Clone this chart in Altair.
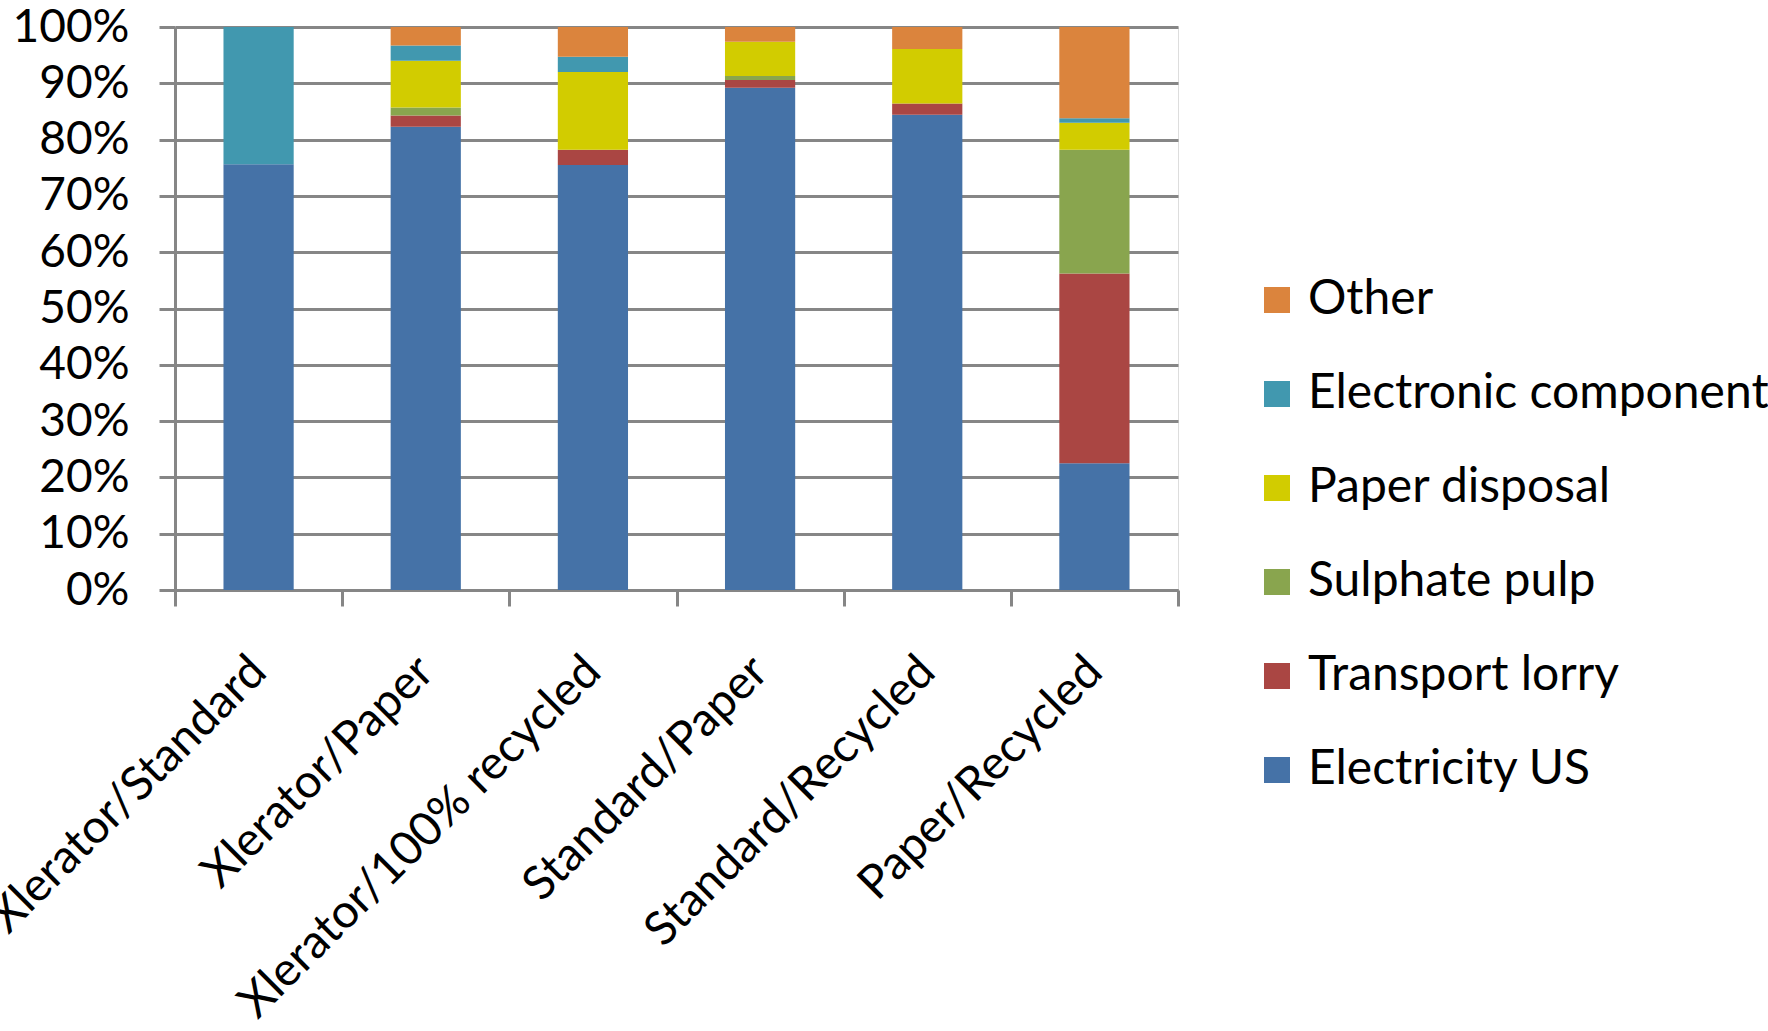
import altair as alt
import pandas as pd

categories = ["Xlerator/Standard", "Xlerator/Paper", "Xlerator/100% recycled",
              "Standard/Paper", "Standard/Recycled", "Paper/Recycled"]
components = ["Electricity US", "Transport lorry", "Sulphate pulp",
              "Paper disposal", "Electronic component", "Other"]
colors = ["#4572A7", "#AA4643", "#89A54E", "#D2CC00", "#4198AF", "#DB843D"]

electricity_us = [75.6, 82.3, 75.5, 89.2, 84.4, 22.5]
transport_lorry = [0.0, 2.0, 2.7, 1.4, 2.0, 33.7]
sulphate_pulp = [0.0, 1.4, 0.0, 0.7, 0.0, 22.0]
paper_disposal = [0.0, 8.3, 13.8, 6.1, 9.7, 4.8]
electronic_component = [24.4, 2.7, 2.7, 0.0, 0.0, 0.8]
other = [0.0, 3.3, 5.3, 2.6, 3.9, 16.2]

series = [electricity_us, transport_lorry, sulphate_pulp,
          paper_disposal, electronic_component, other]

rows = []
for ci, (comp, vals) in enumerate(zip(components, series)):
    for cat, v in zip(categories, vals):
        rows.append({"scenario": cat, "component": comp, "value": v, "idx": ci})
df = pd.DataFrame(rows)

FONT = "Lato"
GRAY = "#868686"

legend_order = list(reversed(components))
legend_colors = list(reversed(colors))

chart = alt.Chart(df).mark_bar(width=alt.RelativeBandSize(0.42)).encode(
    x=alt.X("scenario:N", sort=categories,
            scale=alt.Scale(paddingInner=0, paddingOuter=0),
            axis=alt.Axis(title=None, labelAngle=-45, labelAlign="right",
                          labelBaseline="middle", labelFontSize=47, labelFont=FONT,
                          labelColor="black", tickBand="extent", tickSize=16,
                          tickColor=GRAY, tickWidth=3, domainColor=GRAY,
                          domainWidth=3, labelPadding=58, grid=False,
                          labelLimit=1000, labelOverlap=False)),
    y=alt.Y("value:Q", stack="normalize", scale=alt.Scale(domain=[0, 1]),
            axis=alt.Axis(title=None, values=[i / 10 for i in range(11)],
                          format=".0%", grid=True, gridColor=GRAY, gridWidth=3,
                          gridOpacity=1, tickColor=GRAY, tickWidth=3, tickSize=16,
                          domainColor=GRAY, domainWidth=3, labelFontSize=46,
                          labelFont=FONT, labelColor="black", labelPadding=30)),
    color=alt.Color("component:N",
                    scale=alt.Scale(domain=legend_order, range=legend_colors),
                    legend=alt.Legend(title=None, orient="none", legendX=1078,
                                      legendY=249, symbolType="square",
                                      symbolSize=676, symbolStrokeWidth=0,
                                      labelFontSize=48, labelFont=FONT,
                                      labelColor="black", labelOffset=7,
                                      rowPadding=46, padding=0,
                                      labelLimit=700)),
    order=alt.Order("idx:Q")
).properties(
    width=1003, height=563,
    autosize=alt.AutoSizeParams(type="none"),
    padding={"left": 175, "top": 27, "right": 590, "bottom": 441}
).configure_view(stroke=None).configure(background="white")

chart.save("out.html", embed_options={"renderer": "svg", "actions": False})
